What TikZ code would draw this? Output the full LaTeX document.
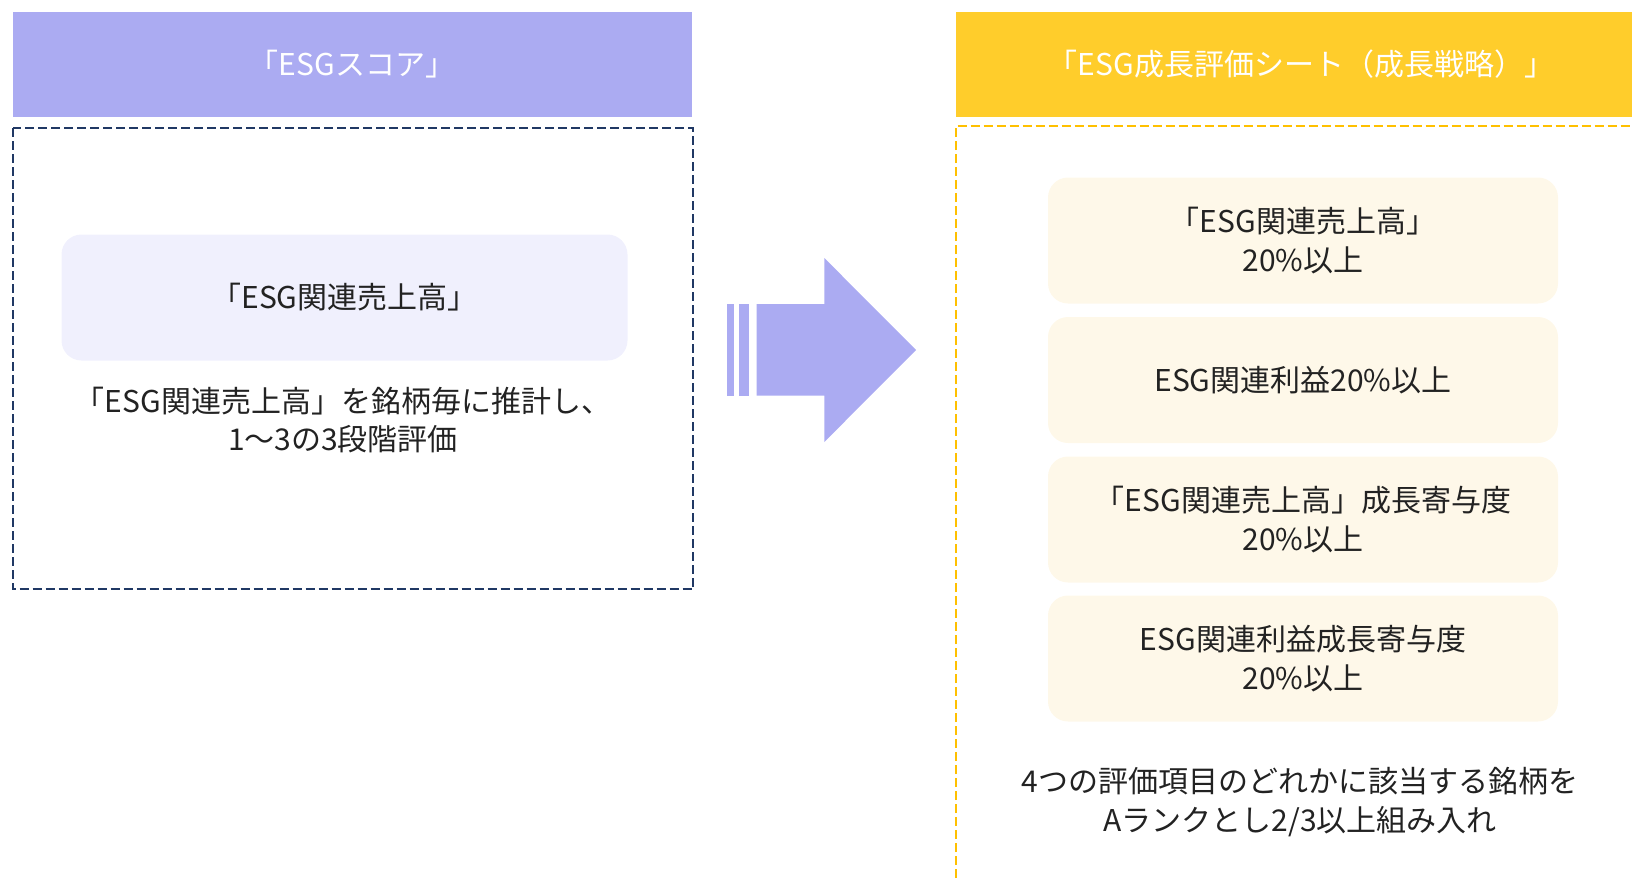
\documentclass[tikz,border=0pt]{standalone}
\usepackage{fontspec}
\newfontfamily\jpfont{Noto Sans CJK JP}
\definecolor{lav}{HTML}{ABABF2}
\definecolor{lavlight}{HTML}{F0F0FD}
\definecolor{navy}{HTML}{203864}
\definecolor{gold}{HTML}{FFCD2B}
\definecolor{golddash}{HTML}{FFC000}
\definecolor{cream}{HTML}{FEF8E9}
\definecolor{ink}{HTML}{222222}
\tikzset{
  txt/.style={font=\jpfont\fontsize{15}{19.25}\selectfont, text=ink, align=center, inner sep=0pt},
  hdr/.style={fill=#1, draw=none, inner sep=0pt},
  rbox/.style={fill=cream, draw=none, rounded corners=10pt, minimum width=255pt, minimum height=63pt, inner sep=0pt, txt},
  dashline/.style={line width=1pt, dash pattern=on 4.5pt off 2pt}
}
\begin{document}
\begin{tikzpicture}[x=0.5pt,y=-0.5pt]
\useasboundingbox (0,0) rectangle (1632,878);
% left column
\node[hdr=lav, minimum width=339.75pt, minimum height=52.5pt] (lh) at (352.25,64) {};
\node[txt, text=white] (lht) at (352,64) {「ESGスコア」};
\coordinate (la) at (12.5,128);
\coordinate (lb) at (693,589);
\draw[navy, dashline] (la) rectangle (lb);
\node[fill=lavlight, rounded corners=10pt, minimum width=283pt, minimum height=63pt, inner sep=0pt, txt] (lin) at (344.5,297.5) {「ESG関連売上高」};
\node[txt] (ltxt) at (343,420) {「ESG関連売上高」を銘柄毎に推計し、\\1～3の3段階評価};
% arrow
\fill[lav] (726.5,304) rectangle (733.8,395.5);
\fill[lav] (739,304) rectangle (749.4,395.5);
\fill[lav] (756.7,304) -- (824.3,304) -- (824.3,258) -- (916,350) -- (824.3,442) -- (824.3,395.5) -- (756.7,395.5) -- cycle;
% right column
\node[hdr=gold, minimum width=338.25pt, minimum height=52.5pt] (rh) at (1293.75,64) {};
\node[txt, text=white] (rht) at (1301,64) {「ESG成長評価シート（成長戦略）」};
\coordinate (rc) at (955.5,878);
\coordinate (rd) at (955.5,126);
\coordinate (re) at (1632,126);
\draw[golddash, dashline] (rc) -- (rd) -- (re);
\node[rbox] (b1) at (1303,240.5) {「ESG関連売上高」\\20\%以上};
\node[rbox] (b2) at (1303,380) {ESG関連利益20\%以上};
\node[rbox] (b3) at (1303,519.5) {「ESG関連売上高」成長寄与度\\20\%以上};
\node[rbox] (b4) at (1303,658.5) {ESG関連利益成長寄与度\\20\%以上};
\node[txt] (rtxt) at (1300,802) {4つの評価項目のどれかに該当する銘柄を\\Aランクとし2/3以上組み入れ};
\end{tikzpicture}
\end{document}
